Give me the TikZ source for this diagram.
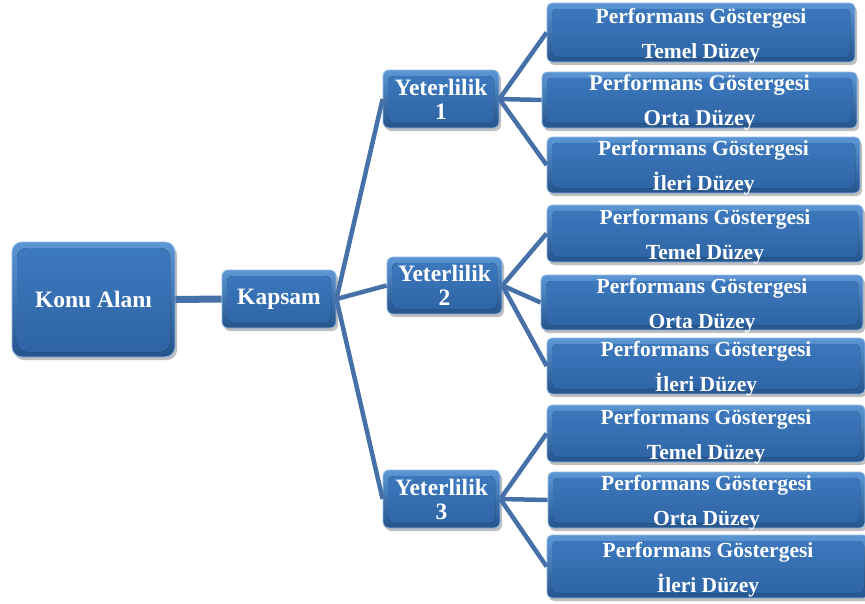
\documentclass[tikz,border=0pt]{standalone}
\usepackage{fontspec}
\setmainfont{Liberation Serif}
\usetikzlibrary{shadows}
\definecolor{boxtop}{HTML}{5C96D4}
\definecolor{boxbot}{HTML}{25548C}
\definecolor{innertop}{HTML}{3E7AC0}
\definecolor{innerbot}{HTML}{2D63A3}
\definecolor{edge}{HTML}{8FB9E4}
\definecolor{linkc}{HTML}{4571A8}
\tikzset{
  bevel/.style={
    rounded corners=#1, draw=edge, line width=0.8pt,
    top color=boxtop, bottom color=boxbot,
    drop shadow={shadow xshift=2pt, shadow yshift=-3pt, opacity=0.25, fill=black},
    inner sep=0pt, text=white, font=\bfseries, align=center,
    path picture={
      \fill[rounded corners=#1, top color=innertop, bottom color=innerbot]
        ([shift={(5pt,-6pt)}]path picture bounding box.north west)
        rectangle ([shift={(-5pt,5pt)}]path picture bounding box.south east);
    }
  },
  bigbox/.style={bevel=10pt, font=\bfseries\fontsize{23.5}{28}\selectfont},
  midbox/.style={bevel=6pt, font=\bfseries\fontsize{23.5}{24}\selectfont},
  perfbox/.style={bevel=5pt, font=\bfseries\fontsize{21.5}{35}\selectfont, text height=51pt, text depth=-1pt},
  link/.style={draw=linkc, line width=4.5pt},
  thicklink/.style={draw=linkc, line width=7pt}
}
\begin{document}
\begin{tikzpicture}[x=1pt,y=-1pt]
\useasboundingbox (0,0) rectangle (865,603);
\node[bigbox, minimum width=163pt, minimum height=115pt] (konu) at (93.5,299.5) {Konu Alanı};
\node[midbox, minimum width=114pt, minimum height=58pt] (kapsam) at (279,299) {Kapsam};
\node[midbox, minimum width=116pt, minimum height=58pt] (y1) at (441,99) {Yeterlilik\\1};
\node[midbox, minimum width=115pt, minimum height=57pt] (y2) at (444.5,285.5) {Yeterlilik\\2};
\node[midbox, minimum width=117pt, minimum height=58pt] (y3) at (441.5,499) {Yeterlilik\\3};
\node[perfbox, minimum width=308pt, minimum height=59pt] (p1) at (701,32.5) {Performans Göstergesi\\Temel Düzey};
\node[perfbox, minimum width=315pt, minimum height=56pt, font=\bfseries\fontsize{22.5}{35}\selectfont] (p2) at (699.5,100) {Performans Göstergesi\\Orta Düzey};
\node[perfbox, minimum width=313pt, minimum height=56pt] (p3) at (703.5,165) {Performans Göstergesi\\İleri Düzey};
\node[perfbox, minimum width=316pt, minimum height=57pt] (p4) at (705,233.5) {Performans Göstergesi\\Temel Düzey};
\node[perfbox, minimum width=322pt, minimum height=55pt] (p5) at (702,302.5) {Performans Göstergesi\\Orta Düzey};
\node[perfbox, minimum width=318pt, minimum height=56pt] (p6) at (706,366) {Performans Göstergesi\\İleri Düzey};
\node[perfbox, minimum width=318pt, minimum height=57pt] (p7) at (706,433.5) {Performans Göstergesi\\Temel Düzey};
\node[perfbox, minimum width=317pt, minimum height=56pt] (p8) at (706.5,500) {Performans Göstergesi\\Orta Düzey};
\node[perfbox, minimum width=322pt, minimum height=63pt] (p9) at (708,566.5) {Performans Göstergesi\\İleri Düzey};
\draw[thicklink] (konu.east) -- (kapsam.west);
\draw[link] (kapsam.east) -- (y1.west);
\draw[link] (kapsam.east) -- (y2.west);
\draw[link] (kapsam.east) -- (y3.west);
\foreach \y/\p in {y1/p1,y1/p2,y1/p3,y2/p4,y2/p5,y2/p6,y3/p7,y3/p8,y3/p9}
  \draw[link] (\y.east) -- (\p.west);
\end{tikzpicture}
\end{document}
